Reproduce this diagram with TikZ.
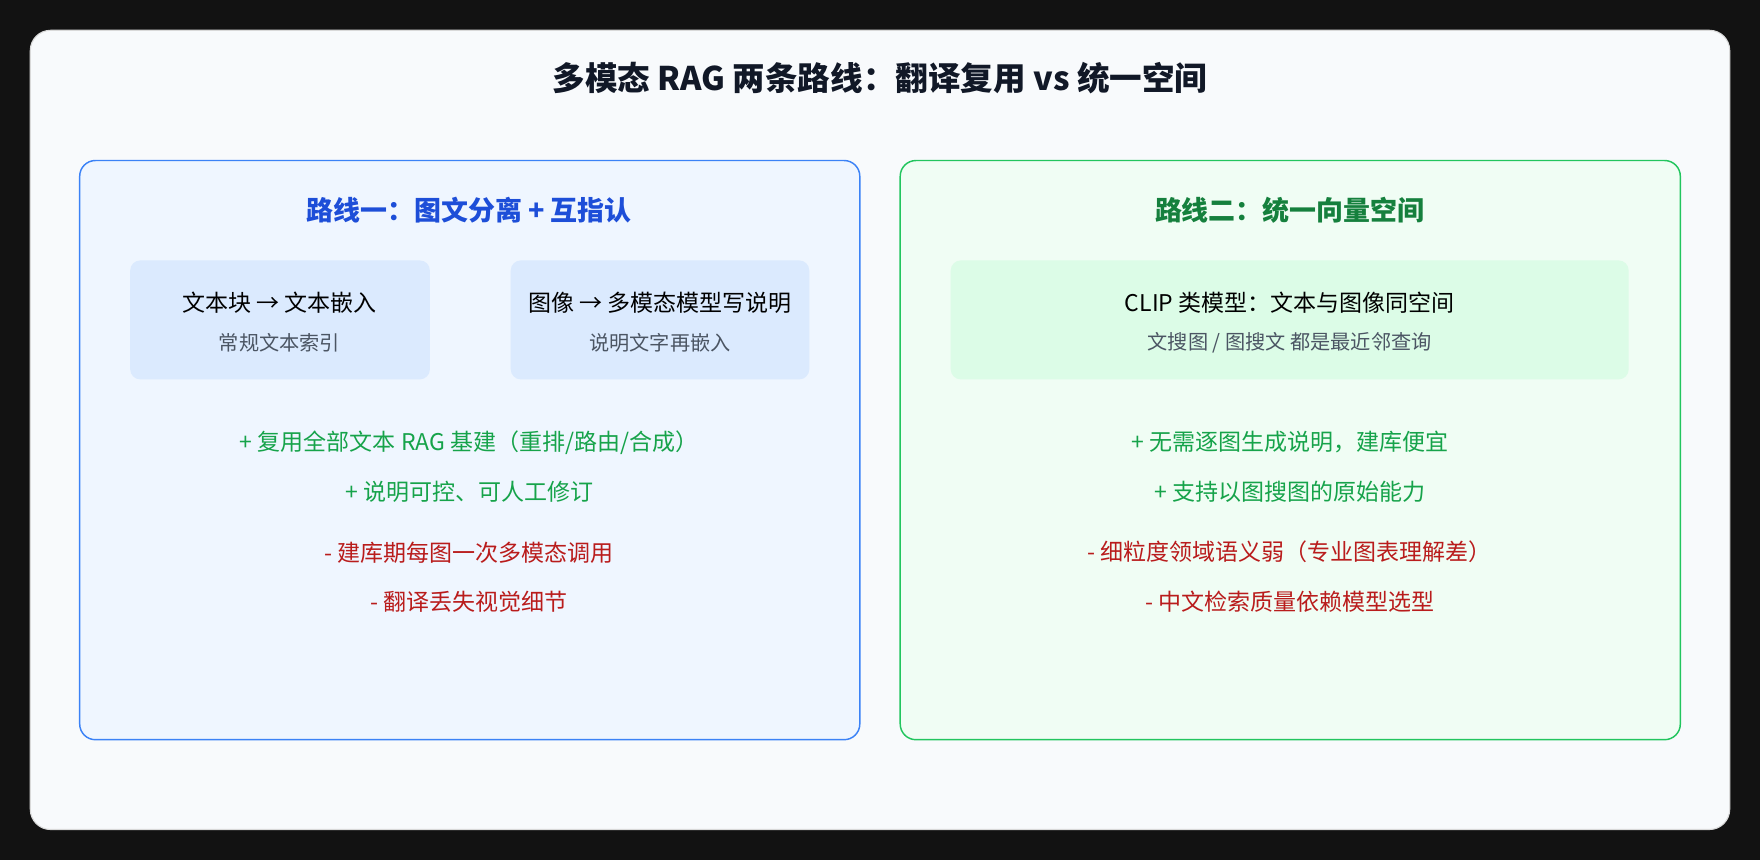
\documentclass[tikz,border=0pt]{standalone}
\usepackage{fontspec}
\setmainfont{Noto Sans CJK SC}
\definecolor{ink}{HTML}{111827}
\definecolor{pagebg}{HTML}{F8FAFC}
\definecolor{blueline}{HTML}{3B82F6}
\definecolor{bluehead}{HTML}{1D4ED8}
\definecolor{bluepanel}{HTML}{EFF6FF}
\definecolor{bluecard}{HTML}{DBEAFE}
\definecolor{greenline}{HTML}{22C55E}
\definecolor{greenhead}{HTML}{15803D}
\definecolor{greenpanel}{HTML}{F0FDF4}
\definecolor{greencard}{HTML}{DCFCE7}
\definecolor{pro}{HTML}{16A34A}
\definecolor{con}{HTML}{B91C1C}
\definecolor{subgray}{HTML}{4B5563}
\tikzset{
  panel/.style={draw,line width=1.3pt,rounded corners=14pt},
  card/.style={draw=none,rounded corners=9pt},
  head/.style={font=\fontsize{24}{28}\selectfont\bfseries},
  main/.style={font=\fontsize{20.5}{24}\selectfont,text=black},
  sub/.style={font=\fontsize{18}{21}\selectfont,text=subgray},
  plus/.style={font=\fontsize{20.5}{24}\selectfont,text=pro},
  minus/.style={font=\fontsize{20.5}{24}\selectfont,text=con}
}
\begin{document}
\begin{tikzpicture}[x=1pt,y=-1pt]
\fill[black!93] (0,0) rectangle (1568,766);
\useasboundingbox (0,0) rectangle (1568,766);
\draw[fill=pagebg,draw=gray!30,line width=1pt,rounded corners=18pt] (27,27) rectangle (1541,739);
\node[font=\fontsize{29}{34}\selectfont\bfseries,text=ink] (title) at (784,70) {多模态 RAG 两条路线：翻译复用 vs 统一空间};
% left route
\draw[panel,draw=blueline,fill=bluepanel] (71,143) rectangle (766,659);
\fill[card,fill=bluecard] (116,232) rectangle (383,338);
\fill[card,fill=bluecard] (455,232) rectangle (721,338);
\path
  (418,187) node[head,text=bluehead] (h1) {路线一：图文分离 + 互指认}
  (249,270) node[main] (t1) {文本块 → 文本嵌入}
  (249,305) node[sub] (s1) {常规文本索引}
  (588,270) node[main] (t2) {图像 → 多模态模型写说明}
  (588,305) node[sub] (s2) {说明文字再嵌入}
  (418,394) node[plus] (p1) {+ 复用全部文本 RAG 基建（重排/路由/合成）}
  (418,438) node[plus] (p2) {+ 说明可控、可人工修订}
  (418,492) node[minus] (m1) {- 建库期每图一次多模态调用}
  (418,536) node[minus] (m2) {- 翻译丢失视觉细节};
% right route
\draw[panel,draw=greenline,fill=greenpanel] (802,143) rectangle (1497,659);
\fill[card,fill=greencard] (847,232) rectangle (1451,338);
\path
  (1149,187) node[head,text=greenhead] (h2) {路线二：统一向量空间}
  (1149,270) node[main] (t3) {CLIP 类模型：文本与图像同空间}
  (1149,305) node[sub] (s3) {文搜图 / 图搜文 都是最近邻查询}
  (1149,394) node[plus] (p3) {+ 无需逐图生成说明，建库便宜}
  (1149,438) node[plus] (p4) {+ 支持以图搜图的原始能力}
  (1149,492) node[minus] (m3) {- 细粒度领域语义弱（专业图表理解差）}
  (1149,536) node[minus] (m4) {- 中文检索质量依赖模型选型};
\end{tikzpicture}
\end{document}
